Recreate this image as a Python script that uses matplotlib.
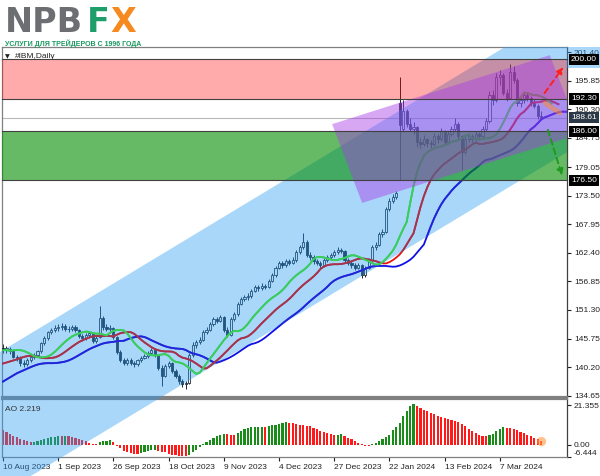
import matplotlib
matplotlib.use('Agg')
import matplotlib.pyplot as plt
from matplotlib.patches import Polygon, Rectangle, FancyArrowPatch
from matplotlib.lines import Line2D
import matplotlib.transforms as mtransforms
import numpy as np

# ---------------- data ----------------
opens = [144.0, 143.5, 143.8, 143.3, 142.2, 142.0, 141.0, 140.8, 141.5, 142.2,
         142.5, 143.3, 144.8, 145.8, 147.0, 147.4, 147.8, 147.9, 148.2, 147.7,
         147.6, 148.0, 147.5, 146.3, 145.8, 146.5, 146.9, 145.2, 146.0, 149.8,
         148.0, 147.6, 147.8, 146.0, 143.2, 141.5, 141.0, 141.6, 141.0, 140.8,
         141.5, 142.0, 142.3, 143.0, 143.5, 142.5, 140.0, 138.5, 140.5, 141.0,
         139.5, 138.5, 137.5, 137.0, 137.2, 142.5, 144.5, 145.0, 145.5, 147.0,
         147.5, 148.5, 149.5, 149.2, 150.0, 147.5, 146.5, 149.5, 150.5, 152.5,
         153.5, 153.8, 154.0, 155.0, 155.8, 155.5, 156.0, 155.8, 157.0, 158.0,
         159.5, 160.5, 160.0, 160.8, 160.5, 161.0, 162.5, 163.5, 164.5, 162.0,
         161.5, 160.8, 160.5, 160.0, 161.0, 161.5, 162.0, 162.5, 163.0, 162.8,
         161.0, 160.5, 160.0, 159.5, 160.0, 158.0, 159.5, 161.0, 163.5, 164.0,
         166.0, 166.5, 171.0, 172.5, 173.3, 191.5, 186.5, 190.0, 187.5, 186.5,
         186.8, 184.0, 183.5, 184.5, 183.8, 183.5, 185.0, 184.5, 186.0, 184.0,
         185.5, 186.5, 187.5, 185.0, 182.0, 184.5, 185.0, 184.5, 185.5, 185.0,
         186.5, 188.0, 193.0, 192.0, 196.5, 197.0, 193.5, 192.5, 197.5, 196.0,
         191.5, 192.0, 193.0, 192.5, 191.5, 191.0, 189.0]
highs = [144.6, 144.3, 144.2, 143.6, 142.6, 142.3, 141.5, 141.9, 142.6, 142.9,
         143.6, 145.1, 146.2, 147.3, 147.8, 148.3, 148.5, 148.7, 148.5, 148.2,
         148.4, 148.3, 147.7, 146.6, 146.9, 147.3, 147.1, 146.2, 152.0, 150.2,
         148.6, 148.3, 148.0, 146.3, 143.5, 142.0, 142.0, 141.9, 141.4, 141.8,
         142.4, 142.8, 143.4, 143.9, 143.8, 142.7, 140.6, 140.9, 141.4, 141.2,
         139.8, 138.8, 137.9, 137.6, 143.0, 145.0, 145.4, 146.0, 147.4, 147.9,
         148.9, 149.9, 150.0, 150.4, 150.2, 147.9, 149.9, 150.9, 152.9, 153.9,
         154.3, 154.6, 155.4, 156.2, 156.2, 156.5, 156.4, 157.4, 158.4, 159.9,
         160.9, 160.9, 161.3, 161.2, 161.5, 162.9, 164.0, 166.3, 164.8, 162.5,
         161.9, 161.2, 160.9, 161.4, 161.9, 162.4, 162.9, 163.5, 163.4, 163.0,
         161.4, 160.9, 160.5, 160.5, 160.3, 159.9, 161.4, 163.9, 164.5, 166.4,
         167.0, 171.4, 173.0, 173.8, 174.5, 196.6, 192.0, 190.4, 188.5, 187.8,
         187.0, 184.8, 185.2, 184.8, 184.3, 185.6, 185.4, 186.6, 186.3, 186.0,
         187.1, 188.6, 187.8, 185.3, 185.0, 185.6, 185.4, 186.0, 185.9, 187.0,
         188.5, 193.8, 194.0, 197.3, 198.0, 197.4, 194.2, 199.0, 198.6, 196.3,
         192.8, 193.8, 193.6, 192.9, 192.2, 191.3, 189.9]
lows = [142.9, 143.0, 142.8, 141.9, 141.3, 140.5, 140.2, 140.5, 141.2, 141.7,
        142.1, 143.0, 144.5, 145.5, 146.6, 147.0, 147.2, 147.5, 147.2, 147.1,
        147.3, 147.1, 145.9, 145.3, 145.5, 146.1, 144.8, 144.9, 145.8, 147.5,
        147.2, 147.0, 145.6, 142.8, 141.2, 140.6, 140.7, 140.6, 140.3, 140.5,
        141.2, 141.7, 142.0, 142.6, 142.2, 139.6, 136.5, 138.2, 140.0, 139.1,
        138.1, 137.0, 136.3, 135.9, 137.0, 142.2, 144.0, 144.6, 145.2, 146.6,
        147.2, 148.2, 148.7, 148.9, 147.0, 146.0, 146.3, 149.2, 150.2, 152.2,
        153.0, 153.3, 153.7, 154.7, 155.0, 155.2, 155.3, 155.5, 156.7, 157.7,
        159.2, 159.5, 159.7, 160.0, 160.2, 160.7, 162.2, 163.2, 161.6, 161.0,
        160.3, 160.0, 159.4, 159.7, 160.6, 161.2, 161.6, 162.2, 162.3, 160.6,
        160.0, 159.5, 159.0, 159.2, 157.5, 157.8, 159.2, 160.8, 163.0, 163.7,
        165.5, 166.2, 170.6, 172.0, 172.9, 176.5, 185.8, 186.8, 186.0, 185.5,
        183.0, 182.8, 183.2, 183.0, 182.8, 183.2, 183.8, 184.2, 183.5, 183.6,
        185.1, 186.0, 184.5, 178.5, 181.6, 184.0, 183.9, 184.1, 184.4, 184.7,
        186.0, 187.6, 191.2, 191.7, 195.0, 193.0, 191.9, 192.2, 195.4, 191.0,
        190.8, 191.6, 191.9, 190.9, 190.5, 188.4, 188.2]
closes = [143.5, 143.9, 143.3, 142.2, 142.0, 141.0, 140.8, 141.5, 142.2, 142.5,
          143.3, 144.8, 145.8, 147.0, 147.4, 147.8, 147.9, 148.2, 147.7, 147.6,
          148.0, 147.5, 146.3, 145.8, 146.5, 146.9, 145.2, 145.8, 149.8, 148.0,
          147.6, 147.8, 146.0, 143.2, 141.5, 141.0, 141.6, 141.0, 140.8, 141.5,
          142.0, 142.3, 143.0, 143.5, 142.5, 140.0, 138.5, 140.5, 141.0, 139.5,
          138.5, 137.5, 137.0, 137.1, 142.5, 144.5, 145.0, 145.5, 147.0, 147.5,
          148.5, 149.5, 149.2, 150.0, 147.5, 146.5, 149.5, 150.5, 152.5, 153.5,
          153.8, 154.0, 155.0, 155.8, 155.5, 156.0, 155.8, 157.0, 158.0, 159.5,
          160.5, 160.0, 160.8, 160.5, 161.0, 162.5, 163.5, 164.5, 162.0, 161.5,
          160.8, 160.5, 160.0, 161.0, 161.5, 162.0, 162.5, 163.0, 162.8, 161.0,
          160.5, 160.0, 159.5, 160.0, 158.0, 159.5, 161.0, 163.5, 164.0, 166.0,
          166.5, 171.0, 172.5, 173.3, 174.0, 187.2, 190.0, 187.5, 186.5, 186.8,
          184.0, 183.5, 184.5, 183.8, 183.5, 185.0, 184.5, 186.0, 184.0, 185.5,
          186.5, 187.5, 185.0, 182.0, 184.5, 185.0, 184.5, 185.5, 185.0, 186.5,
          188.0, 193.0, 192.0, 196.5, 197.0, 193.5, 192.5, 197.5, 196.0, 191.5,
          192.0, 193.0, 192.5, 191.5, 191.0, 189.0, 188.61]

ao_values = [8.0, 7.2, 5.9, 5.0, 4.1, 3.2, 2.7, 2.2, 1.6, 1.8,
             2.3, 2.7, 3.2, 3.8, 4.1, 4.5, 4.7, 4.6, 4.9, 4.6,
             4.4, 3.9, 3.3, 2.7, 2.0, 1.3, 0.8, 0.5, 1.5, 2.2,
             2.4, 2.5, 1.5, -0.5, -1.8, -3.0, -3.8, -4.3, -4.6, -4.8,
             -4.3, -3.8, -3.3, -2.8, -2.5, -3.0, -3.6, -4.0, -4.6, -5.2,
             -5.5, -5.8, -6.0, -6.1, -5.2, -4.0, -2.5, -1.2, 0.3, 1.5,
             2.8, 4.0, 5.0, 5.6, 5.8, 5.7, 5.5, 5.4, 6.5, 7.6,
             8.6, 9.3, 9.6, 9.7, 9.8, 9.9, 9.6, 10.2, 10.5, 10.9,
             11.3, 11.8, 12.2, 12.0, 11.6, 11.2, 10.8, 10.5, 10.2, 10.0,
             9.3, 8.4, 7.6, 6.8, 6.2, 5.8, 5.5, 5.6, 5.7, 5.0,
             4.0, 3.0, 2.0, 1.1, 0.3, -0.4, -0.5, 0.3, 1.0, 1.9,
             3.0, 4.2, 5.5, 7.8, 9.5, 12.0, 15.5, 18.0, 20.8, 22.0,
             21.0, 20.0, 19.0, 18.2, 17.3, 16.5, 15.8, 15.2, 14.6, 14.1,
             13.6, 13.1, 12.2, 11.2, 10.0, 8.6, 7.3, 6.2, 5.3, 5.0,
             4.8, 5.2, 6.0, 7.3, 8.6, 9.4, 9.3, 9.2, 8.7, 7.9,
             7.1, 6.3, 5.5, 4.7, 3.8, 3.0, 2.219]

# Alligator lines: values before the first SMMA step
jaw_head = [137.4, 137.8, 138.2, 138.6, 139.0, 139.3, 139.6, 139.9]
teeth_head = [140.9, 141.1, 141.3, 141.5, 141.7]
lips_head = [143.5, 143.5, 143.4]

date_ticks = [0, 16, 32, 48, 64, 80, 96, 112, 128, 144]
date_labels = ['10 Aug 2023', '1 Sep 2023', '26 Sep 2023', '18 Oct 2023', '9 Nov 2023',
               '4 Dec 2023', '27 Dec 2023', '22 Jan 2024', '13 Feb 2024', '7 Mar 2024']
price_ticks = [201.40, 195.85, 190.30, 184.75, 179.05, 173.50, 167.95, 162.40,
               156.85, 151.30, 145.75, 140.20, 134.65]
price_tick_labels = ['201.40', '195.85', '190.30', '184.75', '179.05', '173.50', '167.95',
                     '162.40', '156.85', '151.30', '145.75', '140.20', '134.65']
level_red_top, level_red_bot = 200.00, 192.30
level_green_top, level_green_bot = 186.00, 176.50
last_price = 188.61
ao_ticks = [21.355, 0.0, -6.444]
ao_tick_labels = ['21.355', '0.00', '-6.444']

# channel (drawn object) anchors: price at bar 0 for upper/lower lines, slope per bar
chan_upper0, chan_lower0, chan_slope = 143.49, 115.79, 0.4048
# rotated rectangle drawing (bar, price) corners
purple_corners = [(95.4, 187.4), (158.5, 200.8), (167.3, 185.5), (104.1, 172.1)]
# forecast arrows (bar, price)
arrow_up = ((156.5, 193.0), (162.9, 198.9))
arrow_down = ((157.7, 186.8), (162.3, 176.9))
arrow_side = ((157.1, 191.5), (161.4, 189.6))

# ---------------- layout ----------------
W, H = 600, 476
plt.rcParams['font.family'] = ['Liberation Sans', 'DejaVu Sans']
fig = plt.figure(figsize=(W / 100, H / 100), dpi=100)
fig.patch.set_facecolor('white')

L, R = 2, 567
main_top, main_bot = 47, 397
ao_top, ao_bot = 399, 457
ax = fig.add_axes([L / W, 1 - main_bot / H, (R - L) / W, (main_bot - main_top) / H])
ax2 = fig.add_axes([L / W, 1 - ao_bot / H, (R - L) / W, (ao_bot - ao_top) / H])

bar_px, x0_px = 3.45, 3.0
px_per_price, y_ref_px, p_ref = 5.148, 195.7, 173.5
def price_at(y):
    return p_ref - (y - y_ref_px) / px_per_price
xlim = ((L - x0_px) / bar_px, (R - x0_px) / bar_px)

o = np.array(opens); h = np.array(highs); l = np.array(lows); c = np.array(closes)
n = len(c)
idx = np.arange(n)

# candles
edge = '#1c2733'
up = c >= o
ax.vlines(idx, l, h, color=edge, lw=0.7, zorder=2)
body = np.maximum(np.abs(c - o), 0.1)
ax.bar(idx, body, bottom=np.minimum(o, c), width=0.62,
       color=np.where(up, 'white', edge), edgecolor=edge, lw=0.6, zorder=3)

# Alligator (SMMA of median price, shifted)
med = (h + l) / 2
def smma(prev, period, values):
    out = []
    for v in values:
        prev = (prev * (period - 1) + v) / period
        out.append(prev)
    return out
jaw = jaw_head + smma(jaw_head[-1], 13, med)
teeth = teeth_head + smma(teeth_head[-1], 8, med)
lips = lips_head + smma(lips_head[-1], 5, med)
gator = [(jaw, '#1010e6', '#2424d8'), (teeth, '#ee1111', '#a8324c'), (lips, '#1ed23a', '#3ccf55')]
for series, col, _ in gator:
    ax.plot(np.arange(len(series)), series, color=col, lw=1.3, zorder=4)

ax.axhline(last_price, color='#b8b8b8', lw=0.8, zorder=1)

ax.set_xlim(*xlim)
ax.set_ylim(price_at(main_bot), price_at(main_top))
ax.set_facecolor('white')
ax.yaxis.tick_right()
ax.set_yticks(price_ticks)
ax.set_yticklabels(price_tick_labels)
ax.tick_params(axis='y', length=3, width=0.8, labelsize=6, pad=2, colors='#222222')
ax.tick_params(axis='x', bottom=False, labelbottom=False)
for s in ax.spines.values():
    s.set_color('#808080'); s.set_linewidth(0.9)
ax.spines['right'].set_color('#404040')
ax.spines['bottom'].set_linewidth(1.6)

# AO panel
ao = np.array(ao_values)
ao_cols = ['#ff1a1a'] + ['#1a8c1a' if ao[i] > ao[i - 1] else '#ff1a1a' for i in range(1, n)]
ax2.bar(idx, ao, width=0.62, color=ao_cols, zorder=2)
ax2.scatter([idx[-1]], [ao[-1]], s=45, color='#ff9a40', alpha=0.6, zorder=3, lw=0)
ax2.set_xlim(*xlim)
ax2.set_ylim(-6.45, 24.7)
ax2.yaxis.tick_right()
ax2.set_yticks(ao_ticks)
ax2.set_yticklabels(ao_tick_labels)
ax2.tick_params(axis='y', length=3, width=0.8, labelsize=6, pad=2, colors='#222222')
ax2.get_yticklabels()[2].set_va('bottom')
ax2.set_xticks(date_ticks)
ax2.set_xticklabels(date_labels, ha='left')
ax2.tick_params(axis='x', length=3, width=0.8, labelsize=6, pad=2, colors='#222222')
for s in ax2.spines.values():
    s.set_color('#808080'); s.set_linewidth(0.9)
ax2.spines['right'].set_color('#404040')
ax2.spines['top'].set_linewidth(1.6)

# ---------------- overlays (drawn objects) ----------------
bx = np.array([-12.0, 185.0])
chan = Polygon([(bx[0], chan_upper0 + chan_slope * bx[0]), (bx[1], chan_upper0 + chan_slope * bx[1]),
                (bx[1], chan_lower0 + chan_slope * bx[1]), (bx[0], chan_lower0 + chan_slope * bx[0])],
               closed=True, transform=ax.transData, fc='#2a9bf2', ec='none', alpha=0.4, zorder=5)
clip = Polygon([(0, 1 - main_top / H), (1, 1 - main_top / H), (1, 1 - 68 / H), (R / W, 1 - 68 / H),
                (R / W, 0), (0, 0)], closed=True, transform=fig.transFigure)
fig.add_artist(chan)
chan.set_clip_path(clip)

# Alligator lines as they appear beneath the channel tint
chan_shape = Polygon(chan.get_xy(), closed=True, transform=ax.transData)
for series, _, col_in in gator:
    ln = Line2D(np.arange(len(series)), series, transform=ax.transData, color=col_in, lw=1.3, zorder=5.5)
    fig.add_artist(ln)
    ln.set_clip_box(ax.bbox)
    ln.set_clip_path(chan_shape)

trans_y = mtransforms.blended_transform_factory(ax.transAxes, ax.transData)
red_zone = Rectangle((0, level_red_bot), 1, level_red_top - level_red_bot, transform=trans_y,
                     fc='#ff0000', ec='none', alpha=0.33, zorder=6)
green_zone = Rectangle((0, level_green_bot), 1, level_green_top - level_green_bot, transform=trans_y,
                       fc='#008c00', ec='none', alpha=0.6, zorder=6)
fig.add_artist(red_zone); fig.add_artist(green_zone)

purple = Polygon(purple_corners, closed=True, transform=ax.transData, fc='#a83ce8', ec='none',
                 alpha=0.45, zorder=7)
fig.add_artist(purple)
purple.set_clip_box(ax.bbox)

for lv in [level_red_top, level_red_bot, level_green_top, level_green_bot]:
    fig.add_artist(Line2D([0, 1], [lv, lv], transform=trans_y, color='#404040', lw=0.8, zorder=8))

for (p0, p1, col) in [(arrow_up[0], arrow_up[1], '#ff2020'), (arrow_down[0], arrow_down[1], '#1f9a1f')]:
    arr = FancyArrowPatch(p0, p1, transform=ax.transData, arrowstyle='-|>', mutation_scale=9,
                          color=col, lw=1.4, linestyle=(0, (3, 2)), zorder=9)
    fig.add_artist(arr)
side = Line2D([arrow_side[0][0], arrow_side[1][0]], [arrow_side[0][1], arrow_side[1][1]],
              transform=ax.transData, color='#ff8a30', lw=3.5, alpha=0.55, solid_capstyle='round', zorder=9)
fig.add_artist(side)

# ---------------- boxed price labels ----------------
for val, txt, fc in [(level_red_top, '200.00', '#000000'), (level_red_bot, '192.30', '#000000'),
                     (last_price, '188.61', '#2b3846'), (level_green_top, '186.00', '#000000'),
                     (level_green_bot, '176.50', '#000000')]:
    t = fig.text(571 / W, 0, txt, fontsize=6, color='white', va='center', ha='left', zorder=12,
                 bbox=dict(boxstyle='square,pad=0.25', fc=fc, ec='none'))
    t.set_transform(mtransforms.blended_transform_factory(fig.transFigure, ax.transData))
    t.set_position((571 / W, val))

# ---------------- titles / logo ----------------
fig.text(5 / W, 1 - 58 / H, '\u25bc', fontsize=4.5, color='#222222', family='DejaVu Sans')
fig.text(15 / W, 1 - 58 / H, '#IBM,Daily', fontsize=6, color='#222222')
fig.text(5 / W, 1 - 411 / H, 'AO 2.219', fontsize=6, color='#333333', zorder=12)

fig.text(5 / W, 1 - 32 / H, 'NPB', fontsize=24, fontweight='bold', color='#6d6e71', va='baseline',
         family='DejaVu Sans')
fig.text(87 / W, 1 - 32 / H, 'F', fontsize=24, fontweight='bold', color='#1e9e6a', va='baseline',
         family='DejaVu Sans')
fig.text(110 / W, 1 - 32 / H, 'X', fontsize=24, fontweight='bold', color='#f48a20', va='baseline',
         family='DejaVu Sans')
fig.text(5 / W, 1 - 46 / H, 'УСЛУГИ ДЛЯ ТРЕЙДЕРОВ С 1996 ГОДА', fontsize=5.0, fontweight='bold',
         color='#17995f', va='baseline')

fig.savefig('out.png', dpi=100)
